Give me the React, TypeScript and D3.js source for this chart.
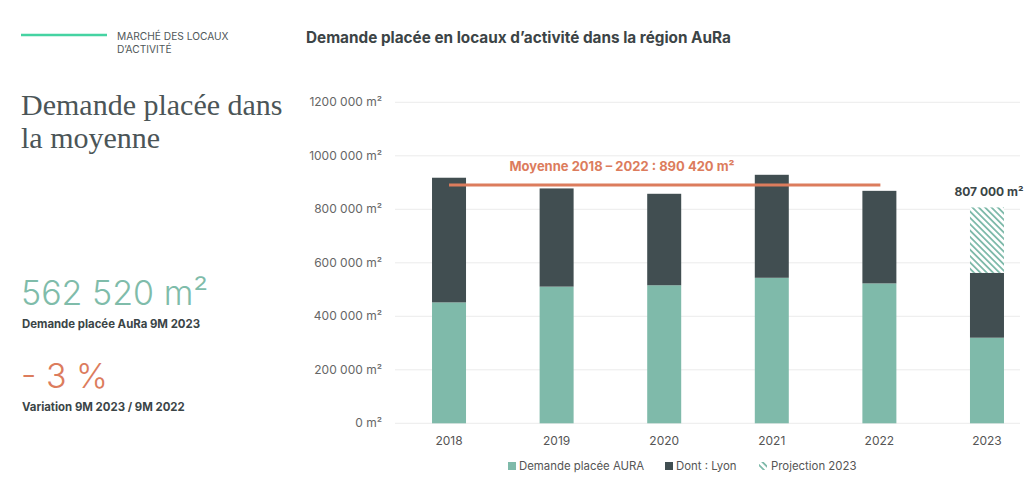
import React from "react";
import * as d3 from "d3";

const years = ["2018", "2019", "2020", "2021", "2022", "2023"];
const auraHorsLyon = [452000, 511000, 516000, 544000, 523000, 320000];
const lyon = [466000, 367000, 342000, 385000, 346000, 242520];
const projection = [0, 0, 0, 0, 0, 244480];
const yTicks = [0, 200000, 400000, 600000, 800000, 1000000, 1200000];
const average = 890420;
const avgFrom = "2018";
const avgTo = "2022";
const projectionLabel = "807 000 m²";
const legendItems = ["Demande placée AURA", "Dont : Lyon", "Projection 2023"];

const W = 1024;
const H = 496;
const GREEN = "#7fbaaa";
const DARK = "#414e51";
const ORANGE = "#dc7c5d";
const SANS = "Inter, 'Noto Sans', sans-serif";

const fmt = (v: number) => {
  if (v === 0) return "0 m²";
  const s = String(v);
  const parts: string[] = [];
  let rest = s;
  while (rest.length > 3) {
    parts.unshift(rest.slice(-3));
    rest = rest.slice(0, -3);
  }
  parts.unshift(rest);
  if (parts.length === 3) return parts[0] + parts[1] + " " + parts[2] + " m²";
  return parts.join(" ") + " m²";
};

export default function App() {
  const y = d3.scaleLinear().domain([0, 1200000]).range([423.3, 102.3]);
  const x = d3
    .scaleBand<string>()
    .domain(years)
    .range([426, 1010])
    .paddingInner(0.684)
    .paddingOuter(0.056);
  const bw = x.bandwidth();

  const stackData = years.map((yr, i) => ({
    year: yr,
    aura: auraHorsLyon[i],
    lyon: lyon[i],
    proj: projection[i],
  }));
  const stack = d3.stack<any>().keys(["aura", "lyon", "proj"]);
  const series = stack(stackData);
  const fills = [GREEN, DARK, "url(#hatch)"];

  const avgX1 = (x(avgFrom) as number) + bw / 2;
  const avgX2 = (x(avgTo) as number) + bw / 2 + 1;
  const lastYear = years[years.length - 1];
  const lastTop = series[2][years.length - 1][1];

  return (
    <svg width={W} height={H} style={{ position: "absolute", left: 0, top: 0, background: "#fff" }}>
      <defs>
        <pattern id="hatch" patternUnits="userSpaceOnUse" width="4.5" height="4.5" patternTransform="rotate(-45)">
          <rect width="4.5" height="4.5" fill="#fff" />
          <rect x="0" y="0" width="1.8" height="4.5" fill={GREEN} />
        </pattern>
      </defs>

      {/* left panel */}
      <line x1={21} x2={107} y1={35} y2={35} stroke="#45d3a2" strokeWidth={2.5} />
      <text x={117} y={40} fontFamily={SANS} fontSize={10.2} fill="#4f5759">MARCHÉ DES LOCAUX</text>
      <text x={117} y={53} fontFamily={SANS} fontSize={10.2} fill="#4f5759">D’ACTIVITÉ</text>
      <text x={21} y={115} fontFamily="'Liberation Serif', serif" fontSize={30} fill="#4b5557">Demande placée dans</text>
      <text x={21} y={148} fontFamily="'Liberation Serif', serif" fontSize={30} fill="#4b5557">la moyenne</text>

      <text x={21} y={305} fontFamily={SANS} fontSize={34} fontWeight={300} fill="#7fbcaa">562 520 m²</text>
      <text x={22} y={328} fontFamily={SANS} fontSize={11.4} fontWeight={700} fill="#3b4547">Demande placée AuRa 9M 2023</text>
      <text x={21} y={388} fontFamily={SANS} fontSize={34} fontWeight={300} fill={ORANGE}>- 3 %</text>
      <text x={22} y={411} fontFamily={SANS} fontSize={11.4} fontWeight={700} fill="#3b4547">Variation 9M 2023 / 9M 2022</text>

      {/* chart title */}
      <text x={306} y={43} fontFamily={SANS} fontSize={15.3} fontWeight={700} fill="#3c4446">
        Demande placée en locaux d’activité dans la région AuRa
      </text>

      {/* grid + y labels */}
      {yTicks.map((t) => (
        <g key={t}>
          <line x1={395} x2={1020} y1={y(t)} y2={y(t)} stroke="#ebebeb" strokeWidth={1} />
          <text x={382} y={y(t) + 4} textAnchor="end" fontFamily={SANS} fontSize={12} fill="#666">
            {fmt(t)}
          </text>
        </g>
      ))}

      {/* bars */}
      {series.map((s, si) => (
        <g key={si}>
          {s.map((d, i) =>
            d[1] - d[0] > 0 ? (
              <rect
                key={i}
                x={x(years[i])}
                width={bw}
                y={y(d[1])}
                height={y(d[0]) - y(d[1])}
                fill={fills[si]}
              />
            ) : null
          )}
        </g>
      ))}

      {/* x labels */}
      {years.map((yr) => (
        <text key={yr} x={(x(yr) as number) + bw / 2} y={445} textAnchor="middle" fontFamily={SANS} fontSize={12} fill="#555">
          {yr}
        </text>
      ))}

      {/* average line */}
      <line x1={avgX1} x2={avgX2} y1={y(average)} y2={y(average)} stroke={ORANGE} strokeWidth={3} />
      <text x={622} y={171} textAnchor="middle" fontFamily={SANS} fontSize={13} fontWeight={700} fill={ORANGE}>
        {`Moyenne ${avgFrom} – ${avgTo} : 890 420 m²`}
      </text>

      {/* projection label */}
      <text x={(x(lastYear) as number) + bw / 2 + 2} y={y(lastTop) - 11} textAnchor="middle" fontFamily={SANS} fontSize={12} fontWeight={700} fill="#3a4446">
        {projectionLabel}
      </text>

      {/* legend */}
      <rect x={508} y={462} width={8} height={8} fill={GREEN} />
      <text x={519} y={470} fontFamily={SANS} fontSize={11.4} fill="#555">{legendItems[0]}</text>
      <rect x={665} y={462} width={8} height={8} fill={DARK} />
      <text x={676} y={470} fontFamily={SANS} fontSize={11.4} fill="#555">{legendItems[1]}</text>
      <rect x={759} y={462} width={8} height={8} fill="url(#hatch)" />
      <text x={771} y={470} fontFamily={SANS} fontSize={11.4} fill="#555">{legendItems[2]}</text>
    </svg>
  );
}
